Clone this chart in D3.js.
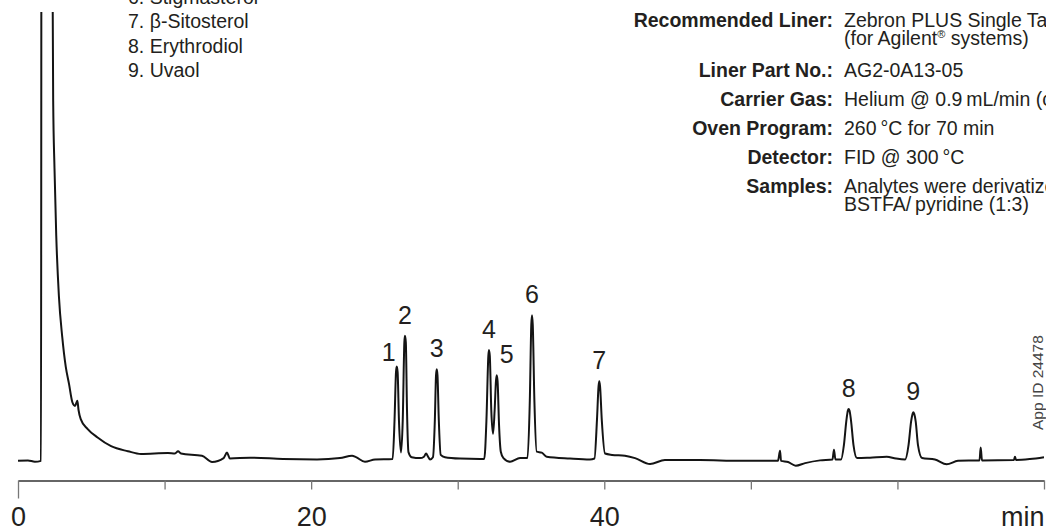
<!DOCTYPE html>
<html>
<head>
  <meta charset="utf-8">
  <title>GC chromatogram - sterols</title>
  <script src="https://d3js.org/d3.v7.min.js"></script>
  <style>
    body { margin: 0; background: #fff; }
    svg { display: block; font-family: "Liberation Sans", Arial, Helvetica, sans-serif; }
  </style>
</head>
<body>
  <div id="chart"></div>

<script>
  // retention time (min) and detector signal (arbitrary units)
  const traceTime = [
    0, 0.68, 1.15, 1.569, 1.60, 2.333, 2.40, 2.49, 2.61, 2.79, 3.02, 3.26, 3.48, 3.71, 3.89, 4.05, 4.13, 4.28,
    4.74, 5.43, 6.35, 7.50, 8.39, 10.23, 10.71, 10.92, 11.12, 12.55, 13.24, 14.03, 14.26, 14.46, 15.83, 18.08,
    20.40, 21.97, 22.79, 23.06, 23.67, 24.36, 25.56,
    25.69, 25.79, 25.84, 25.90, 25.99, 26.13, 26.25, 26.36, 26.40, 26.46, 26.54, 26.64, 26.86, 27.43,
    27.70, 27.84, 27.98, 28.11,
    28.31, 28.44, 28.52, 28.57, 28.62, 28.71, 28.84, 29.13, 30.16, 31.52,
    31.81, 31.96, 32.09, 32.13, 32.19, 32.29, 32.41, 32.52, 32.61, 32.66, 32.72, 32.82, 32.94, 33.12, 33.57, 34.25,
    34.76, 34.92, 35.02, 35.07, 35.12, 35.23, 35.39, 35.73, 36.07, 37.66, 39.02,
    39.33, 39.50, 39.61, 39.66, 39.71, 39.83, 40.05, 40.53, 41.41, 42.10, 43.12, 44.14, 46.53, 49.26,
    51.85, 51.99, 52.06, 52.54, 53.06, 53.70, 54.72, 55.57, 55.67, 55.77,
    56.15, 56.35, 56.52, 56.62, 56.67, 56.73, 56.83, 57.00, 57.24, 58.13, 59.27, 59.90,
    60.52, 60.76, 60.93, 61.04, 61.08, 61.14, 61.25, 61.40, 61.68, 62.56, 63.36, 64.13,
    65.60, 65.68, 65.77, 67.95, 68.02, 68.09, 69.04, 70.0
  ];
  const traceSignal = [
    2.0, 2.1, 1.8, 2.0, 120, 120, 80.6, 65.9, 51.1, 38.0, 29.0, 22.5, 18.8, 14.8, 14.0, 15.1, 13.1, 11.1,
    9.0, 7.1, 5.2, 4.1, 3.5, 3.7, 3.6, 4.1, 3.6, 3.1, 1.75, 2.6, 3.8, 2.5, 2.7, 2.4,
    2.3, 2.6, 3.1, 2.8, 1.8, 2.3, 2.4,
    10.9, 21.4, 22.6, 21.4, 10.9, 3.8, 10.9, 27.9, 29.3, 27.9, 13.1, 3.9, 2.8, 2.6,
    2.9, 3.6, 2.9, 2.3,
    2.8, 10.9, 20.7, 22.0, 20.7, 10.9, 3.3, 2.8, 2.5, 2.4,
    2.4, 10.9, 24.9, 26.2, 24.9, 13.1, 7.9, 13.1, 19.4, 20.7, 19.4, 9.8, 4.0, 2.6, 1.8, 2.6,
    2.6, 15.3, 31.7, 33.8, 31.7, 15.3, 4.0, 3.8, 2.9, 2.5, 2.3,
    2.5, 10.9, 18.3, 19.4, 18.3, 10.9, 3.6, 3.3, 3.1, 2.6, 1.3, 2.2, 2.2, 2.0,
    2.0, 4.2, 2.0, 1.75, 0.94, 1.5, 2.1, 2.3, 4.4, 2.3,
    2.3, 5.5, 10.9, 13.0, 13.3, 13.0, 10.9, 5.5, 2.6, 2.7, 2.9, 2.5,
    2.3, 5.5, 10.5, 12.3, 12.6, 12.3, 10.5, 5.5, 2.6, 2.3, 1.24, 2.0,
    2.1, 4.9, 2.1, 2.2, 2.9, 2.2, 2.4, 2.8
  ];

  // numbered peaks and their retention times
  const peakNames = ["1", "2", "3", "4", "5", "6", "7", "8", "9"];
  const peakTimes = [25.84, 26.40, 28.57, 32.13, 32.66, 35.07, 39.66, 56.67, 61.08];

  const compounds = ["6. Stigmasterol", "7. \u03B2-Sitosterol", "8. Erythrodiol", "9. Uvaol"];

  const specLabels = ["Recommended Liner:", "Liner Part No.:", "Carrier Gas:", "Oven Program:", "Detector:", "Samples:"];
  const specValues = [
    ["Zebron PLUS Single Taper Z-Liner with Wool", "(for Agilent\u00AE systems)"],
    ["AG2-0A13-05"],
    ["Helium @ 0.9\u2009mL/min (constant flow)"],
    ["260\u2009\u00B0C for 70 min"],
    ["FID @ 300\u2009\u00B0C"],
    ["Analytes were derivatized with", "BSTFA/\u2009pyridine (1:3)"]
  ];

  const xTicks = [0, 10, 20, 30, 40, 50, 60, 70];
  const xTickLabels = ["0", "", "20", "", "40", "", "", "min"];
  const appId = "App ID 24478";

  const width = 1046, height = 528;
  const ink = "#231f20";

  const svg = d3.select("#chart")
    .append("svg")
      .attr("width", width)
      .attr("height", height);

  const x = d3.scaleLinear()
    .domain([0, 70])
    .range([18, 1044]);

  const y = d3.scaleLinear()
    .domain([0, 100])
    .range([470, 12]);

  // the solvent front runs off the top, so clip the trace there
  svg.append("clipPath")
      .attr("id", "plot-clip")
    .append("rect")
      .attr("x", 0)
      .attr("y", y(100))
      .attr("width", width)
      .attr("height", 480 - y(100));

  // time axis
  const axis = svg.append("g")
    .attr("transform", "translate(0,480.5)")
    .call(d3.axisBottom(x)
      .tickValues(xTicks)
      .tickSize(9)
      .tickSizeOuter(0)
      .tickFormat((d, i) => xTickLabels[i]));

  axis.select(".domain").attr("stroke", "#333").attr("stroke-width", 1.3);
  axis.selectAll(".tick line").attr("stroke", "#777").attr("stroke-width", 1.3);
  axis.selectAll(".tick").filter(d => d === 0).select("line").attr("y2", 18);
  axis.selectAll(".tick text")
    .attr("y", 45.5)
    .attr("dy", 0)
    .attr("fill", ink)
    .attr("font-size", 27)
    .attr("font-family", "\"Liberation Sans\", Arial, sans-serif");
  axis.selectAll(".tick").filter(d => d === 70).select("text")
    .attr("text-anchor", "end");

  // chromatogram trace
  const trace = traceTime.map((t, i) => ({ t: t, v: traceSignal[i] }));

  svg.append("path")
    .datum(trace)
    .attr("clip-path", "url(#plot-clip)")
    .attr("fill", "none")
    .attr("stroke", "#141414")
    .attr("stroke-width", 2)
    .attr("stroke-linejoin", "round")
    .attr("d", d3.line()
      .curve(d3.curveMonotoneX)
      .x(d => x(d.t))
      .y(d => y(d.v)));

  // peak numbers sit just above each apex (1 and 5 nudged sideways)
  const nudge = { "1": [-8, 7], "5": [10, 0] };
  const apex = t => trace.reduce((a, b) => Math.abs(b.t - t) < Math.abs(a.t - t) ? b : a);

  svg.selectAll(".peak-label")
    .data(peakNames)
    .enter()
    .append("text")
      .attr("class", "peak-label")
      .attr("x", (d, i) => x(peakTimes[i]) + (nudge[d] ? nudge[d][0] : 0))
      .attr("y", (d, i) => y(apex(peakTimes[i]).v) - 12 + (nudge[d] ? nudge[d][1] : 0))
      .attr("text-anchor", "middle")
      .attr("font-size", 25)
      .attr("fill", ink)
      .text(d => d);

  // compound list (top left, continues above the picture)
  svg.selectAll(".compound")
    .data(compounds)
    .enter()
    .append("text")
      .attr("class", "compound")
      .attr("x", 128)
      .attr("y", (d, i) => 4 + i * 24.4)
      .attr("font-size", 19.5)
      .attr("fill", ink)
      .text(d => d);

  // method conditions block (top right)
  let rowY = 27;
  specLabels.forEach((label, i) => {
    svg.append("text")
      .attr("x", 833)
      .attr("y", rowY)
      .attr("text-anchor", "end")
      .attr("font-size", 19.5)
      .attr("font-weight", "bold")
      .attr("fill", ink)
      .text(label);

    specValues[i].forEach((line, j) => {
      const txt = svg.append("text")
        .attr("x", 844)
        .attr("y", rowY + j * 17.5)
        .attr("font-size", 19.5)
        .attr("fill", ink);
      // registered mark is set as a small superscript
      line.split("\u00AE").forEach((part, k) => {
        if (k > 0) {
          txt.append("tspan").attr("font-size", 11).attr("dy", -7).text("\u00AE");
          txt.append("tspan").attr("dy", 7).text(part);
        } else {
          txt.append("tspan").text(part);
        }
      });
    });

    const extra = specValues[i].length - 1;
    rowY += extra * 17.5 + (extra ? 32.5 : 29);
  });

  svg.append("text")
    .attr("transform", "translate(1043,430) rotate(-90)")
    .attr("font-size", 15.5)
    .attr("fill", "#444")
    .text(appId);
</script>
</body>
</html>
